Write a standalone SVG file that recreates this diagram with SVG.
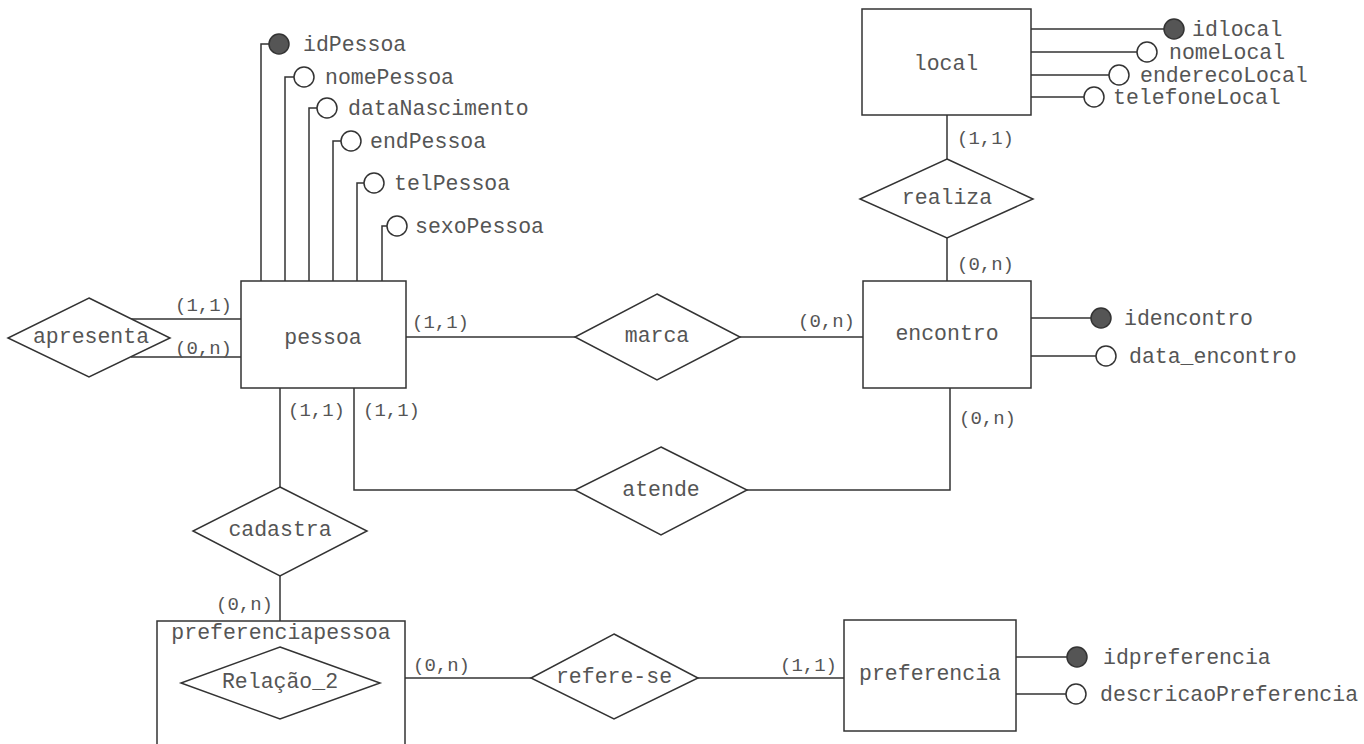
<svg xmlns="http://www.w3.org/2000/svg" width="1364" height="744" viewBox="0 0 1364 744">
<style>
.shape{fill:#fff;stroke:#333;stroke-width:1.5}
.ln{fill:none;stroke:#333;stroke-width:1.5}
.key{fill:#555;stroke:#333;stroke-width:1.5}
.att{fill:#fff;stroke:#333;stroke-width:1.5}
.t{font-family:"Liberation Mono","Courier New",monospace;font-size:21.5px;fill:#555}
.c{text-anchor:middle;dominant-baseline:central}
.card{font-family:"Liberation Mono","Courier New",monospace;font-size:19px;fill:#555}
</style>
<rect width="1364" height="744" fill="#fff"/>
<g id="connectors">
<line class="ln" x1="947" y1="115" x2="947" y2="159"/>
<line class="ln" x1="947" y1="238" x2="947" y2="281"/>
<line class="ln" x1="406" y1="337" x2="575" y2="337"/>
<line class="ln" x1="740" y1="337" x2="863" y2="337"/>
<line class="ln" x1="131" y1="319" x2="241" y2="319"/>
<line class="ln" x1="131" y1="357" x2="241" y2="357"/>
<line class="ln" x1="280" y1="388" x2="280" y2="487"/>
<polyline class="ln" points="354,388 354,490 575,490"/>
<polyline class="ln" points="747,490 950,490 950,388"/>
<line class="ln" x1="280" y1="576" x2="280" y2="621"/>
<line class="ln" x1="405" y1="678" x2="531" y2="678"/>
<line class="ln" x1="698" y1="678" x2="844" y2="678"/>
<text class="card" x="957" y="144">(1,1)</text>
<text class="card" x="957" y="270">(0,n)</text>
<text class="card" x="412" y="328">(1,1)</text>
<text class="card" x="798" y="327">(0,n)</text>
<text class="card" x="175" y="311">(1,1)</text>
<text class="card" x="175" y="354">(0,n)</text>
<text class="card" x="288" y="416">(1,1)</text>
<text class="card" x="363" y="416">(1,1)</text>
<text class="card" x="959" y="424">(0,n)</text>
<text class="card" x="216" y="610">(0,n)</text>
<text class="card" x="413" y="671">(0,n)</text>
<text class="card" x="780" y="671">(1,1)</text>
</g>
<g id="pessoa">
<path class="ln" d="M261,281V44H269M285,281V77H294M309,281V108H317M333,281V141H341M357,281V183H364M382,281V226H387"/>
<circle class="key" cx="279" cy="44" r="10"/>
<circle class="att" cx="304" cy="77" r="10"/>
<circle class="att" cx="327" cy="108" r="10"/>
<circle class="att" cx="351" cy="141" r="10"/>
<circle class="att" cx="374" cy="183" r="10"/>
<circle class="att" cx="397" cy="226" r="10"/>
<text class="t" x="303" y="51">idPessoa</text>
<text class="t" x="325" y="84">nomePessoa</text>
<text class="t" x="348" y="115">dataNascimento</text>
<text class="t" x="370" y="148">endPessoa</text>
<text class="t" x="394" y="190">telPessoa</text>
<text class="t" x="415" y="233">sexoPessoa</text>
<rect class="shape" x="241" y="281" width="165" height="107"/>
<text class="t c" x="323" y="338">pessoa</text>
</g>
<g id="local">
<path class="ln" d="M1031,29H1164M1031,52H1137M1031,75H1109M1031,97H1084"/>
<circle class="key" cx="1174" cy="29" r="10"/>
<circle class="att" cx="1147" cy="52" r="10"/>
<circle class="att" cx="1119" cy="75" r="10"/>
<circle class="att" cx="1094" cy="97" r="10"/>
<text class="t" x="1192" y="36">idlocal</text>
<text class="t" x="1169" y="59">nomeLocal</text>
<text class="t" x="1140" y="82">enderecoLocal</text>
<text class="t" x="1113" y="104">telefoneLocal</text>
<rect class="shape" x="862" y="9" width="169" height="106"/>
<text class="t c" x="946" y="64">local</text>
</g>
<g id="realiza">
<polygon class="shape" points="947,159 1033,199 947,238 860,199"/>
<text class="t c" x="947" y="198">realiza</text>
</g>
<g id="encontro">
<path class="ln" d="M1031,318H1091M1031,356H1096"/>
<circle class="key" cx="1101" cy="318" r="10"/>
<circle class="att" cx="1106" cy="356" r="10"/>
<text class="t" x="1124" y="325">idencontro</text>
<text class="t" x="1129" y="363">data_encontro</text>
<rect class="shape" x="863" y="281" width="168" height="107"/>
<text class="t c" x="947" y="334">encontro</text>
</g>
<g id="marca">
<polygon class="shape" points="657,294 740,337 657,380 575,337"/>
<text class="t c" x="657" y="336">marca</text>
</g>
<g id="apresenta">
<polygon class="shape" points="89,298 170,338 89,377 8,338"/>
<text class="t c" x="91" y="337">apresenta</text>
</g>
<g id="atende">
<polygon class="shape" points="661,447 747,490 661,535 575,490"/>
<text class="t c" x="661" y="490">atende</text>
</g>
<g id="cadastra">
<polygon class="shape" points="280,487 367,531 280,576 193,531"/>
<text class="t c" x="280" y="530">cadastra</text>
</g>
<g id="preferenciapessoa">
<rect class="shape" x="157" y="621" width="248" height="140"/>
<text class="t c" x="281" y="633">preferenciapessoa</text>
<polygon class="shape" points="280,647 380,683 280,719 181,683"/>
<text class="t c" x="280" y="682">Relação_2</text>
</g>
<g id="refere-se">
<polygon class="shape" points="614,634 698,678 614,719 531,678"/>
<text class="t c" x="614" y="677">refere-se</text>
</g>
<g id="preferencia">
<path class="ln" d="M1016,657H1067M1016,694H1066"/>
<circle class="key" cx="1077" cy="657" r="10"/>
<circle class="att" cx="1076" cy="694" r="10"/>
<text class="t" x="1103" y="664">idpreferencia</text>
<text class="t" x="1100" y="701">descricaoPreferencia</text>
<rect class="shape" x="844" y="620" width="172" height="111"/>
<text class="t c" x="930" y="674">preferencia</text>
</g>
</svg>
